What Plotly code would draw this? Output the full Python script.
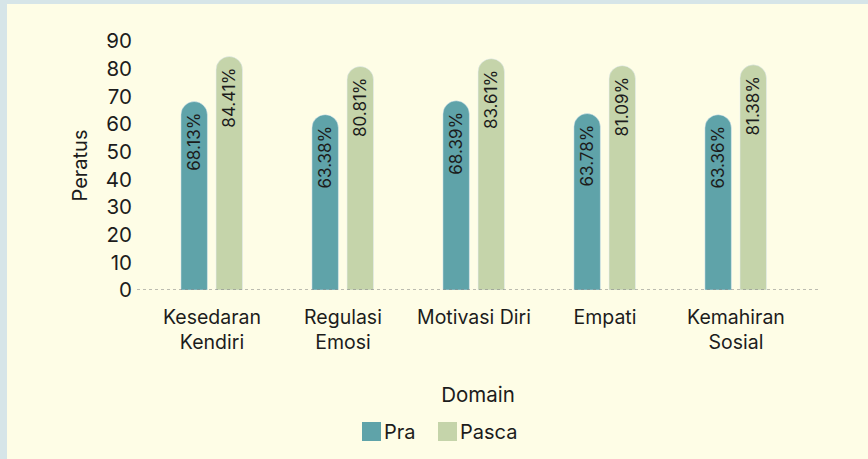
import plotly.graph_objects as go

# Data
domains = ["Kesedaran<br>Kendiri", "Regulasi<br>Emosi", "Motivasi Diri", "Empati", "Kemahiran<br>Sosial"]
pra = [68.13, 63.38, 68.39, 63.78, 63.36]
pasca = [84.41, 80.81, 83.61, 81.09, 81.38]
y_ticks = [0, 10, 20, 30, 40, 50, 60, 70, 80, 90]

# Colours and font
PRA_COLOR = "#5fa3a9"
PASCA_COLOR = "#c5d4aa"
PANEL = "#fefde6"
FRAME = "#d6e5e8"
TEXT = "#1c1c1c"
FONT = "Inter"

# Page geometry (pixels)
W, H = 868, 459
L, R, T, B = 137, 49, 41, 169
PW, PH = W - L - R, H - T - B


def px(x):
    return (x - L) / PW


def py(y):
    return (H - B - y) / PH


fig = go.Figure()

bar_common = dict(
    width=0.202,
    texttemplate="%{y:.2f}%",
    textposition="inside",
    insidetextanchor="end",
    textangle=-90,
    constraintext="none",
    textfont=dict(family=FONT, size=17, color=TEXT),
    marker_cornerradius="50%",
    showlegend=False,
    hoverinfo="skip",
)

fig.add_trace(go.Bar(name="Pra", x=domains, y=pra, offset=-0.237,
                     marker_color=PRA_COLOR, **bar_common))
fig.add_trace(go.Bar(name="Pasca", x=domains, y=pasca, offset=0.031,
                     marker_color=PASCA_COLOR, **bar_common))

shapes = [
    # cream panel over the frame colour
    dict(type="rect", xref="paper", yref="paper", layer="below",
         x0=px(7), x1=px(W + 20), y0=py(H + 20), y1=py(4),
         fillcolor=PANEL, line_width=0),
    # dotted baseline
    dict(type="line", xref="paper", yref="y", x0=0, x1=1, y0=0, y1=0,
         line=dict(color="#7a7a7a", width=1, dash="dot")),
]

# legend drawn as swatches + labels
annotations = []
legend_items = [("Pra", PRA_COLOR, 362), ("Pasca", PASCA_COLOR, 438)]
for label, color, x0 in legend_items:
    shapes.append(dict(type="rect", xref="paper", yref="paper",
                       x0=px(x0), x1=px(x0 + 19), y0=py(441), y1=py(422),
                       fillcolor=color, line_width=0))
    annotations.append(dict(text=label, xref="paper", yref="paper",
                            x=px(x0 + 20), y=py(432), xanchor="left", yanchor="middle",
                            showarrow=False, font=dict(family=FONT, size=20, color=TEXT)))

fig.update_layout(
    width=W, height=H,
    margin=dict(l=L, r=R, t=T, b=B),
    paper_bgcolor=FRAME,
    plot_bgcolor="rgba(0,0,0,0)",
    barmode="group",
    font=dict(family=FONT, size=20, color=TEXT),
    shapes=shapes,
    annotations=annotations,
    showlegend=False,
    xaxis=dict(
        range=[-0.5725, 4.634],
        showgrid=False, zeroline=False, showline=False, ticks="",
        ticklabelstandoff=13,
        tickfont=dict(family=FONT, size=19.5, color=TEXT),
        title=dict(text="Domain", standoff=34, font=dict(family=FONT, size=20.5, color=TEXT)),
    ),
    yaxis=dict(
        range=[0, 90],
        tickvals=y_ticks,
        showgrid=False, zeroline=False, showline=False, ticks="",
        ticklabelstandoff=4,
        tickfont=dict(family=FONT, size=20.5, color=TEXT),
        title=dict(text="Peratus", standoff=12, font=dict(family=FONT, size=20, color=TEXT)),
    ),
)

fig.write_html("out.html")
